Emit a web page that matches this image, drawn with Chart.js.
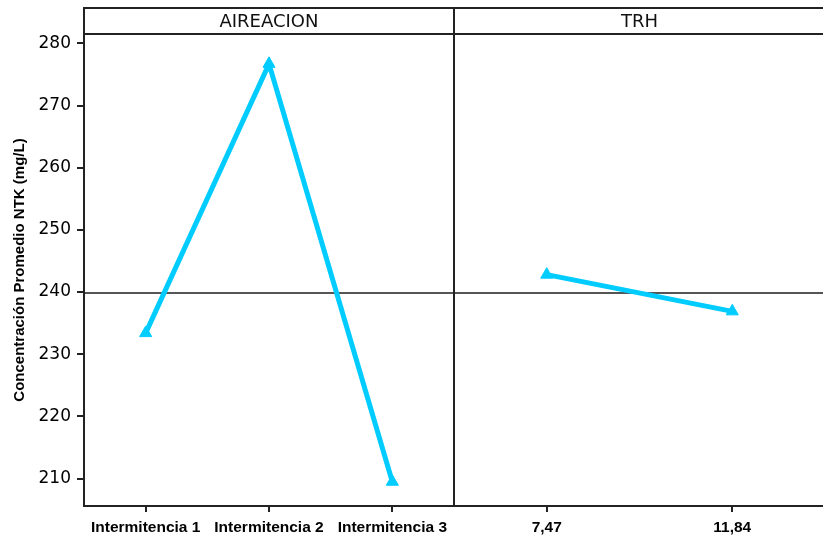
<!DOCTYPE html>
<html>
<head>
<meta charset="utf-8">
<script src="https://cdn.jsdelivr.net/npm/chart.js@4"></script>
<style>
  body { margin: 0; background: #fff; }
  #wrap { position: relative; width: 823px; height: 540px; overflow: hidden; }
  canvas { position: absolute; top: 0; }
</style>
</head>
<body>
<div id="wrap">
  <canvas id="aireChart" width="456" height="540" style="left:0"></canvas>
  <canvas id="trhChart" width="371" height="540" style="left:454px"></canvas>
</div>
<script>
const aireLabels = ['Intermitencia 1', 'Intermitencia 2', 'Intermitencia 3'];
const aireValues = [233.4, 276.7, 209.5];
const trhLabels = ['7,47', '11,84'];
const trhValues = [242.8, 236.9];
const grandMean = 239.85;
const yTicks = [210, 220, 230, 240, 250, 260, 270, 280];
const yMin = 205.6;
const yMax = 281.5;

const lineColor = '#00CCFF';
const frameColor = '#222';

// marco, franja de título y línea de media
const panelPlugin = {
    id: 'panel',
    beforeDatasetsDraw(chart, args, opts) {
        const { ctx, chartArea } = chart;
        const y = chart.scales.y.getPixelForValue(grandMean);
        ctx.save();
        ctx.strokeStyle = '#555';
        ctx.lineWidth = 2;
        ctx.beginPath();
        ctx.moveTo(chartArea.left, y);
        ctx.lineTo(chartArea.right, y);
        ctx.stroke();
        ctx.restore();
    },
    afterDraw(chart, args, opts) {
        const { ctx, chartArea } = chart;
        const top = chartArea.top - 26;
        ctx.save();
        ctx.strokeStyle = frameColor;
        ctx.lineWidth = 2;
        ctx.strokeRect(chartArea.left, top, chartArea.right - chartArea.left, chartArea.bottom - top);
        ctx.beginPath();
        ctx.moveTo(chartArea.left, chartArea.top);
        ctx.lineTo(chartArea.right, chartArea.top);
        ctx.stroke();
        ctx.fillStyle = '#111';
        ctx.font = '18px "DejaVu Sans"';
        ctx.textAlign = 'center';
        ctx.textBaseline = 'middle';
        ctx.fillText(opts.title, (chartArea.left + chartArea.right) / 2, top + 14);
        ctx.restore();
    }
};

function makeChart(id, labels, values, title, showY) {
    const ctx = document.getElementById(id).getContext('2d');
    return new Chart(ctx, {
        type: 'line',
        data: {
            labels: labels,
            datasets: [{
                data: values,
                borderColor: lineColor,
                backgroundColor: lineColor,
                borderWidth: 5,
                pointStyle: 'triangle',
                pointRadius: 7,
                pointBorderWidth: 1,
                tension: 0
            }]
        },
        options: {
            responsive: false,
            animation: false,
            layout: { autoPadding: false, padding: { top: 34, right: showY ? 2 : 0, left: 0, bottom: 0 } },
            plugins: {
                legend: { display: false },
                tooltip: { enabled: false },
                panel: { title: title }
            },
            scales: {
                x: {
                    type: 'category',
                    offset: true,
                    border: { display: false },
                    grid: { drawOnChartArea: false, tickLength: 6, color: frameColor, lineWidth: 2 },
                    ticks: {
                        padding: 6,
                        color: '#000',
                        maxRotation: 0,
                        font: { family: '"Liberation Sans", Arial', size: 15.5, weight: 'bold' }
                    },
                    afterFit: s => { s.height = 34; }
                },
                y: {
                    display: showY,
                    min: yMin,
                    max: yMax,
                    border: { display: false },
                    grid: { drawOnChartArea: false, tickLength: 7, color: frameColor, lineWidth: 2 },
                    ticks: {
                        padding: 6,
                        color: '#000',
                        font: { family: '"DejaVu Sans"', size: 17 }
                    },
                    afterBuildTicks: s => { s.ticks = yTicks.map(v => ({ value: v })); },
                    title: {
                        display: true,
                        text: 'Concentración Promedio NTK (mg/L)',
                        color: '#000',
                        padding: { top: 11, bottom: 0 },
                        font: { family: '"Liberation Sans", Arial', size: 15, weight: 'bold' }
                    },
                    afterFit: s => { s.width = showY ? 84 : 0; }
                }
            }
        },
        plugins: [panelPlugin]
    });
}

makeChart('aireChart', aireLabels, aireValues, 'AIREACION', true);
makeChart('trhChart', trhLabels, trhValues, 'TRH', false);
</script>
</body>
</html>
